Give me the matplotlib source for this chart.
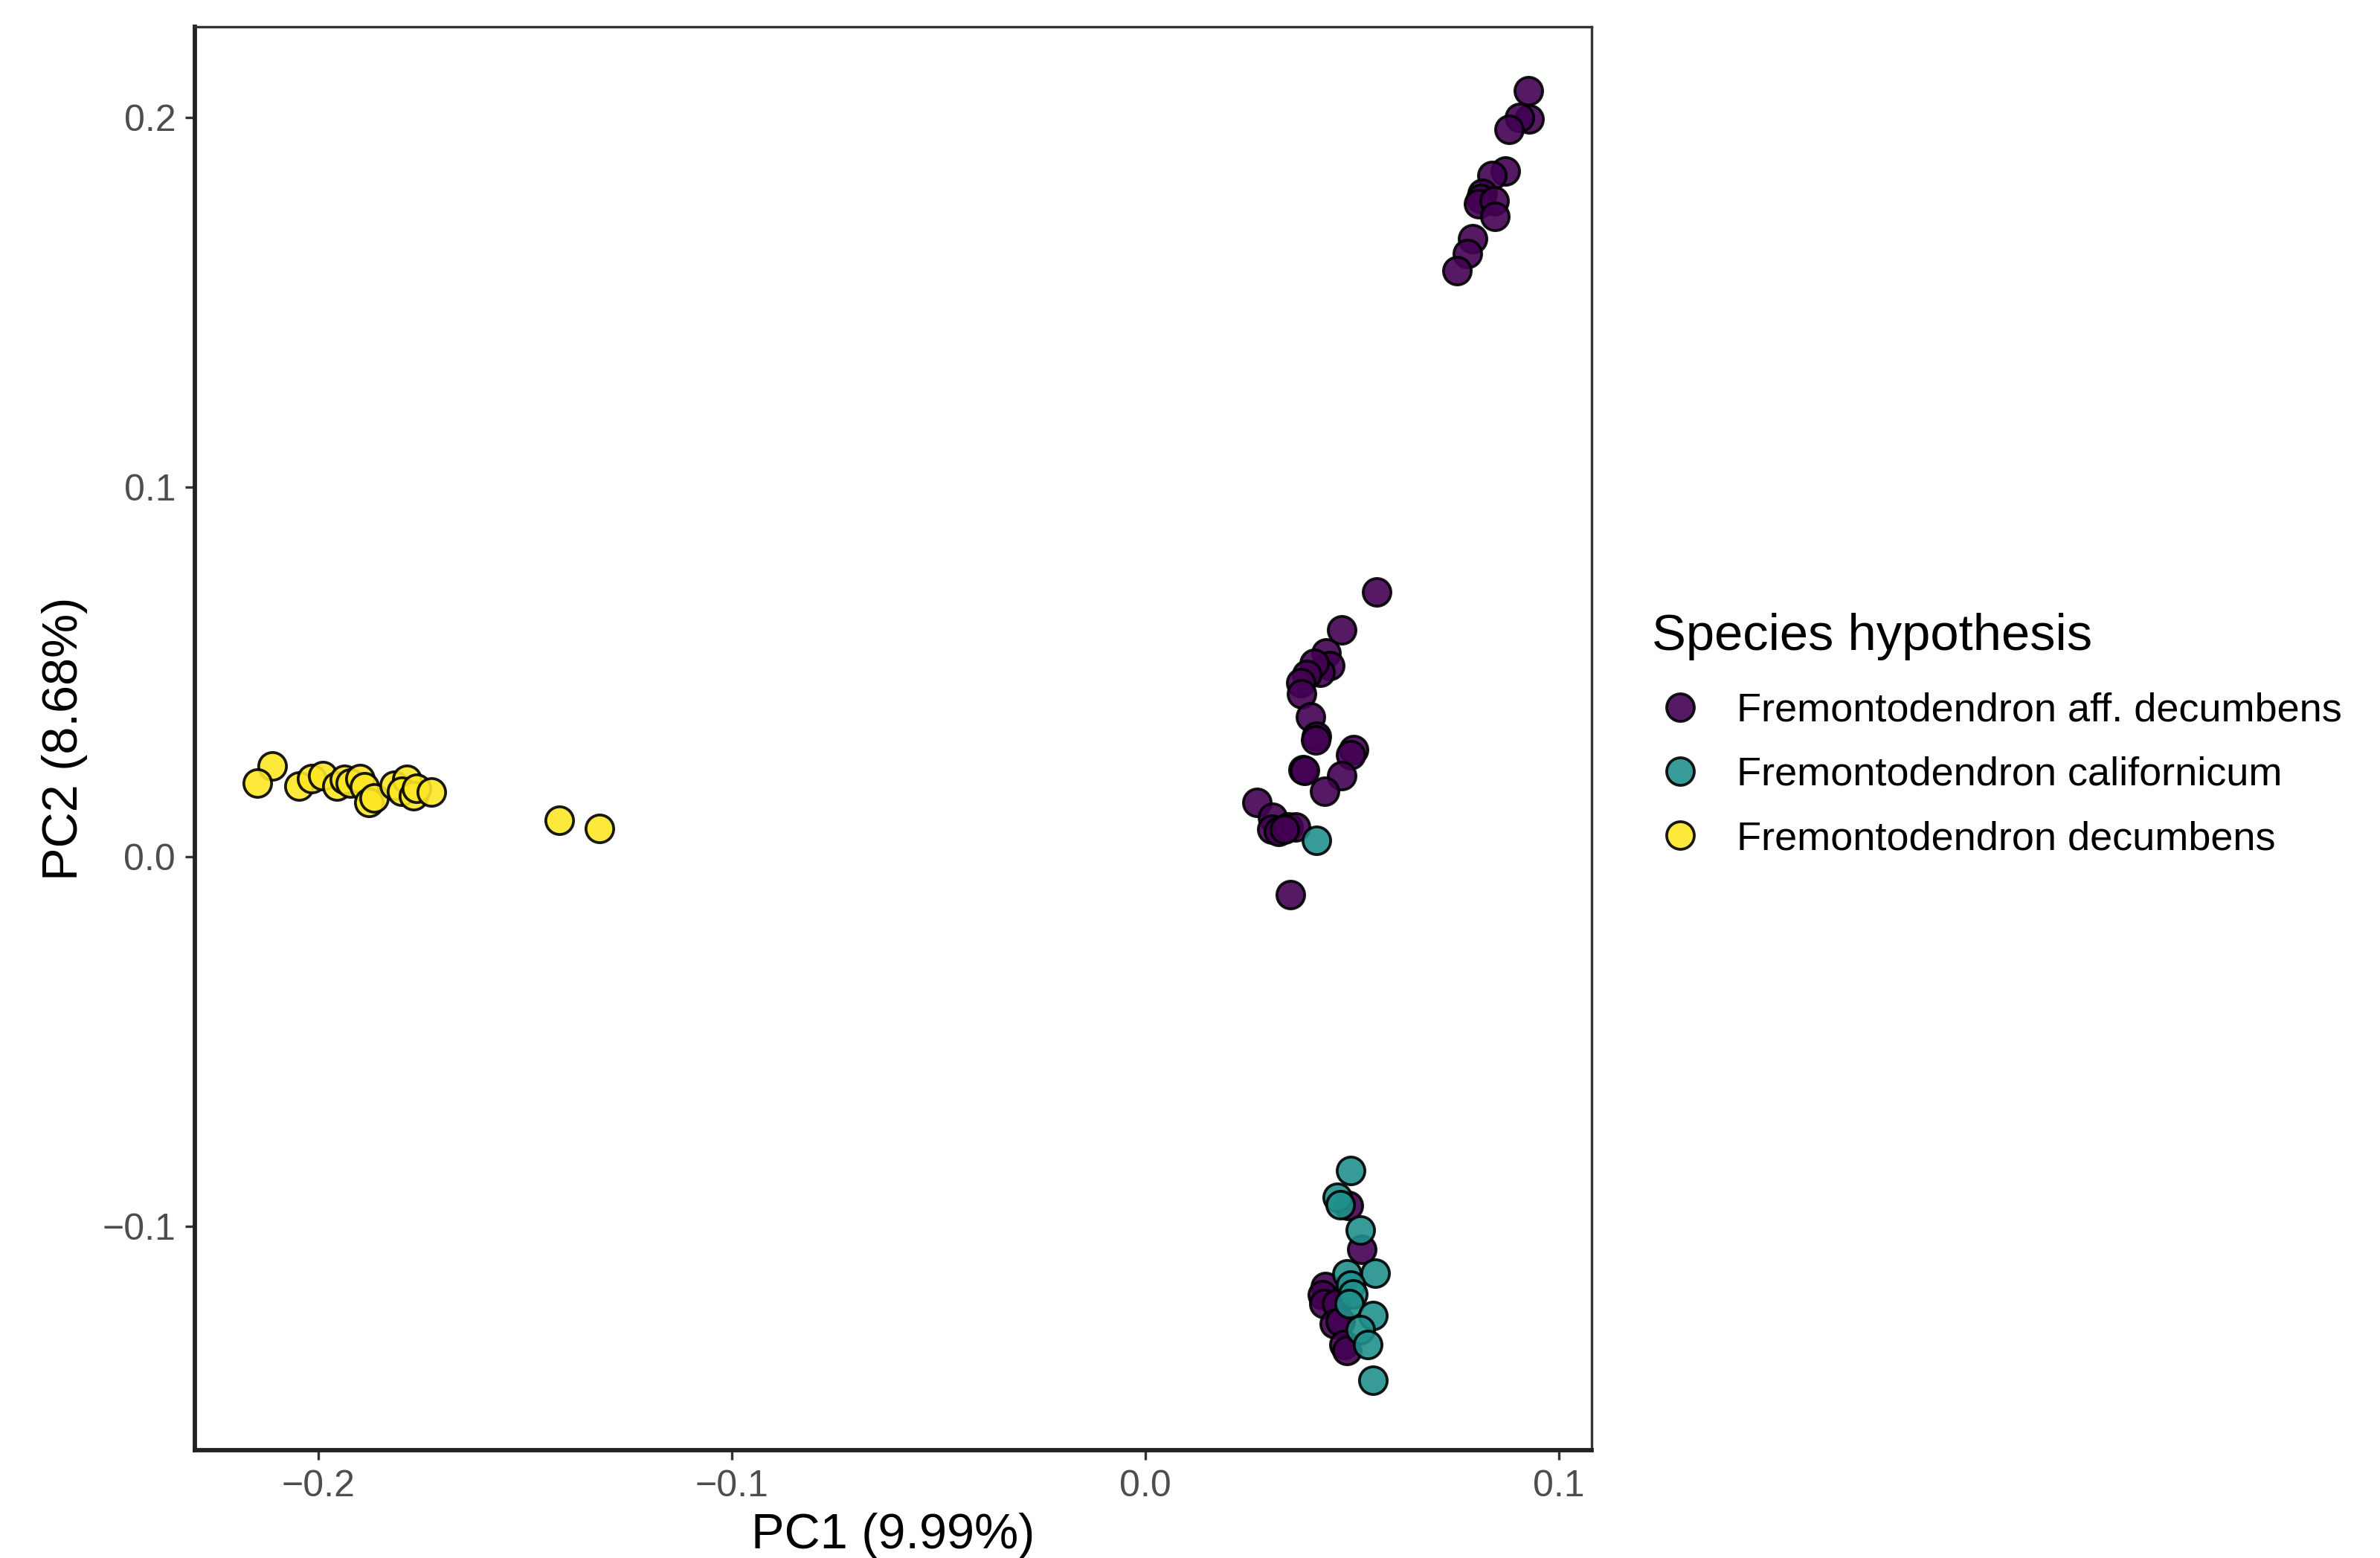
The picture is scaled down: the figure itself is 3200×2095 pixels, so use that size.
import matplotlib
matplotlib.use("Agg")
import matplotlib.pyplot as plt
from matplotlib.lines import Line2D

plt.rcParams['font.family'] = ['Liberation Sans', 'DejaVu Sans']

species = ["Fremontodendron aff. decumbens",
           "Fremontodendron californicum",
           "Fremontodendron decumbens"]
colors = ["#440154", "#21908C", "#FDE725"]

# aff. decumbens
aff_pc1 = [0.0926, 0.0928, 0.0904, 0.0880, 0.0871, 0.0838, 0.0815, 0.0811, 0.0806, 0.0844,
           0.0845, 0.0791, 0.0778, 0.0754,
           0.0559, 0.0474, 0.0437, 0.0445, 0.0423, 0.0408, 0.0390, 0.0375, 0.0377, 0.0399,
           0.0414, 0.0411, 0.0504, 0.0496, 0.0474, 0.0381, 0.0384, 0.0433, 0.0270, 0.0307,
           0.0306, 0.0321, 0.0345, 0.0363, 0.0336, 0.0351,
           0.0490, 0.0523, 0.0435, 0.0427, 0.0432, 0.0462, 0.0456, 0.0471, 0.0480, 0.0488]
aff_pc2 = [0.2072, 0.1996, 0.2000, 0.1969, 0.1855, 0.1844, 0.1795, 0.1781, 0.1768, 0.1776,
           0.1733, 0.1672, 0.1632, 0.1585,
           0.0717, 0.0613, 0.0551, 0.0517, 0.0500, 0.0524, 0.0494, 0.0470, 0.0441, 0.0378,
           0.0327, 0.0316, 0.0289, 0.0276, 0.0220, 0.0235, 0.0233, 0.0177, 0.0147, 0.0107,
           0.0074, 0.0068, 0.0081, 0.0081, 0.0074, -0.0102,
           -0.0944, -0.1062, -0.1163, -0.1186, -0.1210, -0.1210, -0.1264, -0.1258, -0.1320, -0.1337]

# californicum
cal_pc1 = [0.0414, 0.0496, 0.0463, 0.0471, 0.0519, 0.0555, 0.0487, 0.0496, 0.0501, 0.0492,
           0.0550, 0.0519, 0.0537, 0.0550]
cal_pc2 = [0.0044, -0.0849, -0.0922, -0.0942, -0.1011, -0.1128, -0.1129, -0.1160, -0.1183, -0.1210,
           -0.1242, -0.1280, -0.1321, -0.1416]

# decumbens
dec_pc1 = [-0.2112, -0.2148, -0.2047, -0.2017, -0.1990, -0.1955, -0.1937, -0.1923, -0.1900, -0.1888,
           -0.1878, -0.1865, -0.1817, -0.1787, -0.1799, -0.1771, -0.1763, -0.1727, -0.1418, -0.1320]
dec_pc2 = [0.0245, 0.0200, 0.0192, 0.0211, 0.0219, 0.0192, 0.0209, 0.0200, 0.0212, 0.0189,
           0.0146, 0.0158, 0.0193, 0.0209, 0.0178, 0.0165, 0.0185, 0.0175, 0.0098, 0.0076]

xticks = [-0.2, -0.1, 0.0, 0.1]
yticks = [-0.1, 0.0, 0.1, 0.2]

fig = plt.figure(figsize=(3200/300, 2095/300), dpi=300)
ax = fig.add_axes([262/3200, 1 - 1950/2095, (2140-262)/3200, (1950-36)/2095])

data = [(aff_pc1, aff_pc2), (cal_pc1, cal_pc2), (dec_pc1, dec_pc2)]
for (xs, ys), c, lab in zip(data, colors, species):
    ax.scatter(xs, ys, s=80, c=c, edgecolors="black", linewidths=0.9, alpha=0.9, zorder=3)

ax.set_xlim(-0.2299, 0.1079)
ax.set_ylim(-0.1606, 0.2246)
ax.set_xticks(xticks)
ax.set_yticks(yticks)
ax.set_xticklabels([f"{t:.1f}".replace("-", "\u2212") for t in xticks])
ax.set_yticklabels([f"{t:.1f}".replace("-", "\u2212") for t in yticks])
ax.tick_params(axis="both", labelsize=12, colors="#333333", labelcolor="#4D4D4D",
               length=3.2, width=0.8, pad=3)
for side in ["left", "bottom"]:
    ax.spines[side].set_linewidth(1.4)
    ax.spines[side].set_color("#222222")
for side in ["top", "right"]:
    ax.spines[side].set_linewidth(0.8)
    ax.spines[side].set_color("#333333")

ax.set_xlabel("PC1 (9.99%)", fontsize=16, labelpad=3)
ax.set_ylabel("PC2 (8.68%)", fontsize=16, labelpad=4.6)

handles = [Line2D([0], [0], marker="o", linestyle="none", markersize=8.9,
                  markerfacecolor=c, markeredgecolor="black", markeredgewidth=0.9, alpha=0.9)
           for c in colors]
leg = ax.legend(handles, species, title="Species hypothesis", loc="upper left",
                bbox_to_anchor=(2221/3200, 1 - 824/2095), bbox_transform=fig.transFigure,
                frameon=False, fontsize=13, title_fontsize=16.5, labelspacing=0.67,
                handletextpad=0.68, handlelength=1.42, borderpad=0, borderaxespad=0)
leg._legend_box.align = "left"
leg._legend_box.sep = 0.67 * 13 + 1.5

fig.savefig("out.png", dpi=300)
